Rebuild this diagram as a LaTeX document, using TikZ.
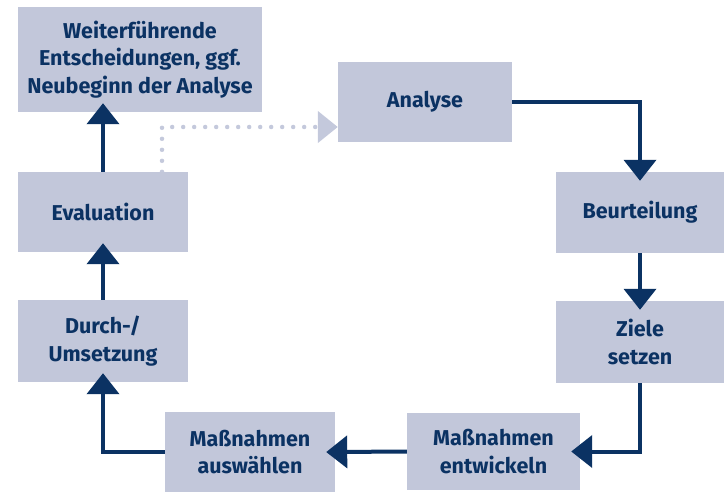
\documentclass[tikz,border=0pt]{standalone}
\usepackage{fontspec}
\setmainfont{Fira Sans}
\usetikzlibrary{arrows.meta,backgrounds}
\definecolor{boxfill}{HTML}{C2C7DA}
\definecolor{navy}{HTML}{0B3263}
\definecolor{dotc}{HTML}{C4C9DC}
\tikzset{
  box/.style={fill=boxfill, draw=none, text=navy, font=\bfseries\fontsize{21.5}{27.5}\selectfont, align=center, inner sep=0pt},
  arr/.style={draw=navy, line width=4pt, -{Triangle[width=32pt,length=21pt]}, shorten >=-9pt},
  dotarr/.style={draw=dotc, line width=4.5pt, line cap=round, dash pattern=on 0pt off 11pt, -{Triangle[width=31pt,length=20pt]}}
}
\begin{document}
\begin{tikzpicture}[x=1pt,y=-1pt]
\useasboundingbox (0,0) rectangle (726,492);
\node[box, minimum width=244pt, minimum height=105pt] (W) at (140,59.5) {Weiterführende\\Entscheidungen, ggf.\\Neubeginn der Analyse};
\node[box, minimum width=174pt, minimum height=80pt] (A) at (425,102) {Analyse};
\node[box, minimum width=168pt, minimum height=81pt] (B) at (640,212.5) {Beurteilung};
\node[box, minimum width=168pt, minimum height=82pt] (Z) at (640,342) {Ziele\\setzen};
\node[box, minimum width=173pt, minimum height=77pt] (ME) at (493.5,451.5) {Maßnahmen\\entwickeln};
\node[box, minimum width=170pt, minimum height=80pt] (MA) at (250,452) {Maßnahmen\\auswählen};
\node[box, minimum width=170pt, minimum height=82pt] (D) at (103,341) {Durch-/\\Umsetzung};
\node[box, minimum width=170pt, minimum height=80pt] (E) at (103,212) {Evaluation};
\coordinate (dstart) at ([xshift=59pt]E.north);
\coordinate (dend) at ([yshift=-25pt]A.west);
\begin{scope}[on background layer]
\draw[dotarr] (dstart) |- (dend);
\end{scope}
\draw[arr] (A.east) -| (B.north);
\draw[arr] (B.south) -- (Z.north);
\draw[arr] (Z.south) |- (ME.east);
\draw[arr] (ME.west) -- (MA.east);
\draw[arr] (MA.west) -| (D.south);
\draw[arr] (D.north) -- (E.south);
\draw[arr] (E.north) -- (E.north |- W.south);
\end{tikzpicture}
\end{document}
